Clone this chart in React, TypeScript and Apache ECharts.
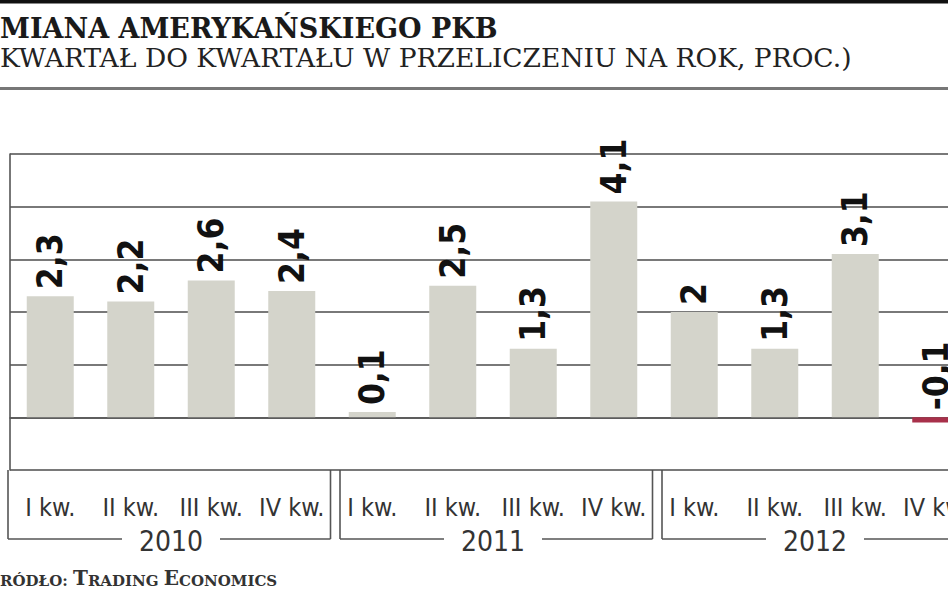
import React, { useEffect, useRef } from "react";
import * as echarts from "echarts";

const QUARTERS = [
  "I kw.", "II kw.", "III kw.", "IV kw.",
  "I kw.", "II kw.", "III kw.", "IV kw.",
  "I kw.", "II kw.", "III kw.", "IV kw.",
];
const YEARS = ["2010", "2011", "2012"];
const GDP_CHANGE = [2.3, 2.2, 2.6, 2.4, 0.1, 2.5, 1.3, 4.1, 2, 1.3, 3.1, -0.1];
const Y_TICKS = { min: -1, max: 5, interval: 1 };

const TITLE = "MIANA AMERYKAŃSKIEGO PKB";
const SUBTITLE = "KWARTAŁ DO KWARTAŁU W PRZELICZENIU NA ROK, PROC.)";

const W = 948;
const H = 593;
const CHART_W = 980;
const GRID_LEFT = 10;
const GRID_RIGHT = 4;
const GRID_TOP = 154;
const GRID_BOTTOM = 123;
const NARROW = "'Liberation Sans Narrow', 'DejaVu Sans Condensed', sans-serif";

export default function App() {
  const ref = useRef<HTMLDivElement>(null);

  useEffect(() => {
    document.body.style.margin = "0";
    if (!ref.current) return;
    const chart = echarts.init(ref.current, null, { renderer: "svg" });

    const plotW = CHART_W - GRID_LEFT - GRID_RIGHT;
    const band = plotW / QUARTERS.length;
    const axisY = H - GRID_BOTTOM;
    const boxBottom = axisY + 69;
    const lineStyle = { stroke: "#555", lineWidth: 1.6 };
    const boxes: any[] = [];
    YEARS.forEach((_, i) => {
      const start = GRID_LEFT + i * 4 * band;
      const end = start + 4 * band;
      const left = i === 0 ? start - 2 : start + 8;
      const right = end - 1.5;
      const c = (start + end) / 2;
      boxes.push(
        { type: "line", silent: true, shape: { x1: left, y1: axisY, x2: left, y2: boxBottom }, style: lineStyle },
        { type: "line", silent: true, shape: { x1: right, y1: axisY, x2: right, y2: boxBottom }, style: lineStyle },
        { type: "line", silent: true, shape: { x1: left, y1: boxBottom, x2: c - 49, y2: boxBottom }, style: lineStyle },
        { type: "line", silent: true, shape: { x1: c + 49, y1: boxBottom, x2: right, y2: boxBottom }, style: lineStyle }
      );
    });

    chart.setOption({
      animation: false,
      backgroundColor: "#ffffff",
      grid: { left: GRID_LEFT, right: GRID_RIGHT, top: GRID_TOP, bottom: GRID_BOTTOM, containLabel: false },
      xAxis: [
        {
          type: "category",
          data: QUARTERS,
          position: "bottom",
          axisLine: { show: true, lineStyle: { color: "#555", width: 1.6 } },
          axisTick: { show: false },
          axisLabel: {
            interval: 0,
            margin: 37,
            verticalAlign: "middle",
            fontFamily: NARROW,
            fontSize: 25,
            color: "#333",
          },
        },
        {
          type: "category",
          data: YEARS,
          position: "bottom",
          axisLine: { show: false },
          axisTick: { show: false },
          axisLabel: {
            interval: 0,
            margin: 71,
            verticalAlign: "middle",
            fontFamily: NARROW,
            fontSize: 28,
            color: "#333",
          },
        },
      ],
      yAxis: {
        type: "value",
        min: Y_TICKS.min,
        max: Y_TICKS.max,
        interval: Y_TICKS.interval,
        axisLine: { show: true, lineStyle: { color: "#555", width: 1.6 } },
        axisTick: { show: false },
        axisLabel: { show: false },
        splitLine: { show: true, lineStyle: { color: "#4d4d4d", width: 1.6 } },
      },
      series: [
        {
          type: "bar",
          xAxisIndex: 0,
          data: GDP_CHANGE,
          barWidth: 47,
          itemStyle: {
            color: (p: any) => (p.value < 0 ? "#a8304a" : "#d4d4cb"),
          },
          label: {
            show: true,
            position: "top",
            distance: 7,
            rotate: 90,
            align: "left",
            verticalAlign: "middle",
            fontFamily: NARROW,
            fontWeight: "bold",
            fontSize: 35,
            color: "#111",
            formatter: (p: any) => String(p.value).replace(".", ","),
          },
        },
      ],
      graphic: [
        { type: "rect", silent: true, shape: { x: 0, y: 0, width: W, height: 3.5 }, style: { fill: "#111" } },
        {
          type: "text",
          silent: true,
          x: 0,
          y: 28,
          style: {
            text: TITLE,
            fontFamily: "'DejaVu Serif', serif",
            fontWeight: "bold",
            fontSize: 27,
            fill: "#1a1a1a",
            verticalAlign: "middle",
          },
        },
        {
          type: "text",
          silent: true,
          x: 0,
          y: 57,
          style: {
            text: SUBTITLE,
            fontFamily: "'DejaVu Serif', serif",
            fontSize: 26.5,
            fill: "#222",
            verticalAlign: "middle",
          },
        },
        { type: "rect", silent: true, shape: { x: 0, y: 87, width: W, height: 3 }, style: { fill: "#777" } },
        ...boxes,
        {
          type: "text",
          silent: true,
          x: 0,
          y: 588,
          style: {
            text: "{s|RÓDŁO: }{b|T}{s|RADING }{b|E}{s|CONOMICS}",
            verticalAlign: "bottom",
            rich: {
              s: { fontFamily: "'DejaVu Serif', serif", fontWeight: "bold", fontSize: 15, fill: "#333", verticalAlign: "bottom" },
              b: { fontFamily: "'DejaVu Serif', serif", fontWeight: "bold", fontSize: 20, fill: "#333", verticalAlign: "bottom" },
            },
          },
        },
      ],
    });

    return () => chart.dispose();
  }, []);

  return (
    <div style={{ width: W, height: H, overflow: "hidden" }}>
      <div ref={ref} style={{ width: CHART_W, height: H }} />
    </div>
  );
}
